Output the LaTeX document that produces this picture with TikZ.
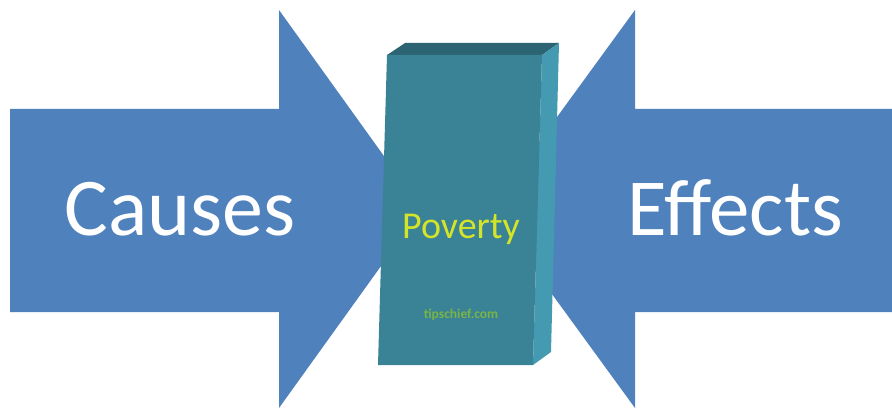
\documentclass[tikz,border=0pt]{standalone}
\usepackage{fontspec}
\setmainfont{Carlito}
\definecolor{arrowblue}{RGB}{79,129,189}
\definecolor{boxfront}{RGB}{58,130,150}
\definecolor{boxtop}{RGB}{44,100,116}
\definecolor{boxside}{RGB}{68,154,176}
\definecolor{povyellow}{RGB}{212,228,40}
\definecolor{wmgreen}{RGB}{120,180,70}
\tikzset{
  bigarrow/.style={fill=arrowblue, draw=none},
  bigtext/.style={text=white, inner sep=0pt, anchor=base},
}
\begin{document}
\begin{tikzpicture}[x=1pt,y=-1pt]
\useasboundingbox (0,0) rectangle (892,409);
\fill[white] (0,0) rectangle (892,409);
% left arrow
\path[bigarrow] (10,109) -- (279,109) -- (279,10) -- (422,209) -- (279,408) -- (279,312) -- (10,312) -- cycle;
% right arrow
\path[bigarrow] (893,109) -- (635,109) -- (635,10) -- (490,209) -- (635,408) -- (635,312) -- (893,312) -- cycle;
% box
\fill[boxtop] (387,55) -- (405,43) -- (559,43) -- (542,55) -- cycle;
\fill[boxside] (542,55) -- (559,43) -- (551,352) -- (533,365) -- cycle;
\fill[boxfront] (387,55) -- (542,55) -- (533,365) -- (378,365) -- cycle;
% texts
\node[bigtext, font=\fontsize{82}{90}\selectfont] (causes) at (180,235) {Causes};
\node[bigtext, font=\fontsize{81}{90}\selectfont] (effects) at (735,235) {Effects};
\node[inner sep=0pt, anchor=base, text=povyellow, font=\fontsize{38}{44}\selectfont] (poverty) at (461,238) {Poverty};
\node[inner sep=0pt, anchor=base, text=wmgreen, font=\bfseries\fontsize{13.5}{15}\selectfont] (wm) at (461,318) {tipschief.com};
\end{tikzpicture}
\end{document}
